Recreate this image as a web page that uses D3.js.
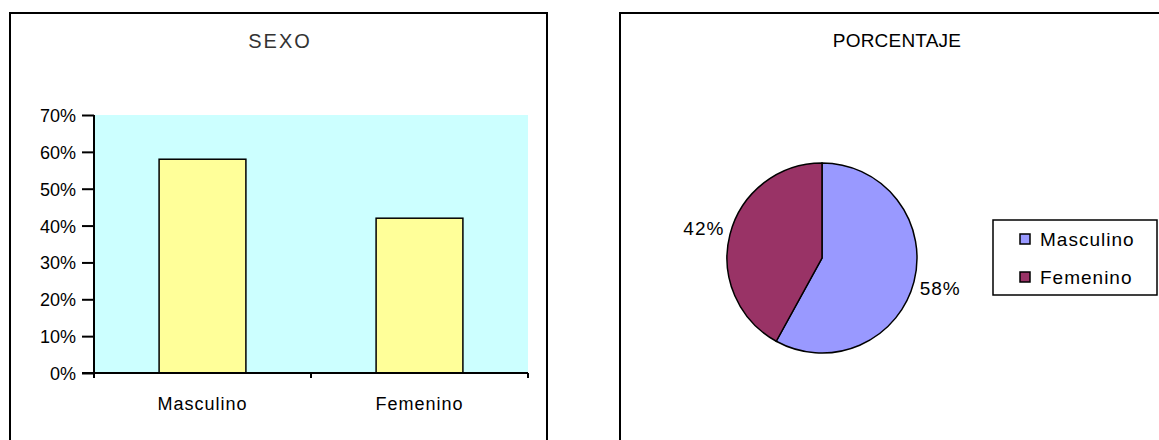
<!DOCTYPE html>
<html>
<head>
	<title>SEXO / PORCENTAJE</title>
	<script src="https://d3js.org/d3.v7.min.js"></script>
	<style>
		body { margin: 0; background: #fff; }
		text { font-family: "Liberation Sans", Arial, sans-serif; fill: #000; }
	</style>
</head>
<body>
	<div id="chart"></div>

	<script>
		// Data
		const categories = ["Masculino", "Femenino"];
		const values = [0.58, 0.42];
		const yTicks = [0, 0.1, 0.2, 0.3, 0.4, 0.5, 0.6, 0.7];
		const pieColors = ["#9999FF", "#993366"];

		const svg = d3.select("#chart")
			.append("svg")
			.attr("width", 1159)
			.attr("height", 440);

		// ---- left panel: bar chart ----
		svg.append("rect")
			.attr("x", 10).attr("y", 13)
			.attr("width", 537).attr("height", 440)
			.attr("fill", "#fff").attr("stroke", "#000").attr("stroke-width", 2);

		svg.append("text")
			.attr("x", 280).attr("y", 48)
			.attr("text-anchor", "middle")
			.style("font-size", "20px")
			.style("letter-spacing", "2px")
			.style("fill", "#333")
			.text("SEXO");

		const plot = { left: 94, top: 115, right: 528, bottom: 373 };

		const x = d3.scaleBand()
			.domain(categories)
			.range([plot.left, plot.right])
			.paddingInner(0.6)
			.paddingOuter(0.3);
		const y = d3.scaleLinear()
			.domain([0, 0.7])
			.range([plot.bottom, plot.top]);

		svg.append("rect")
			.attr("x", plot.left).attr("y", plot.top)
			.attr("width", plot.right - plot.left)
			.attr("height", plot.bottom - plot.top)
			.attr("fill", "#CCFFFF");

		svg.selectAll(".bar")
			.data(values)
			.enter()
			.append("rect")
			.attr("class", "bar")
			.attr("x", (d, i) => x(categories[i]))
			.attr("y", d => y(d))
			.attr("width", x.bandwidth())
			.attr("height", d => y(0) - y(d))
			.attr("fill", "#FFFF99")
			.attr("stroke", "#000")
			.attr("stroke-width", 1.5);

		// y axis
		const yAxis = svg.append("g")
			.attr("transform", `translate(${plot.left},0)`)
			.call(d3.axisLeft(y).tickValues(yTicks).tickFormat(d3.format(".0%")).tickSize(12).tickPadding(6));
		yAxis.select(".domain").attr("stroke-width", 2).attr("d", `M0,${plot.top}V${plot.bottom}`);
		yAxis.selectAll(".tick line").attr("stroke-width", 2);
		yAxis.selectAll(".tick text")
			.style("font-size", "18px")
			.style("font-family", "Liberation Sans, Arial, sans-serif")
			.attr("dy", "0.36em");

		// x axis
		const xEdge = d3.scaleLinear().domain([0, 2]).range([plot.left, plot.right]);
		const xAxis = svg.append("g")
			.attr("transform", `translate(0,${plot.bottom})`);
		xAxis.append("line")
			.attr("x1", plot.left - 12).attr("x2", plot.right)
			.attr("stroke", "#000").attr("stroke-width", 2);
		xAxis.selectAll(".xt")
			.data([0, 1, 2])
			.enter()
			.append("line")
			.attr("x1", d => xEdge(d)).attr("x2", d => xEdge(d))
			.attr("y1", 0).attr("y2", 5)
			.attr("stroke", "#000").attr("stroke-width", 2);
		xAxis.selectAll(".xl")
			.data(categories)
			.enter()
			.append("text")
			.attr("x", d => x(d) + x.bandwidth() / 2)
			.attr("y", 37)
			.attr("text-anchor", "middle")
			.style("font-size", "18px")
			.style("letter-spacing", "1px")
			.text(d => d);

		// ---- right panel: pie chart ----
		svg.append("rect")
			.attr("x", 620).attr("y", 13)
			.attr("width", 600).attr("height", 440)
			.attr("fill", "#fff").attr("stroke", "#000").attr("stroke-width", 2);

		svg.append("text")
			.attr("x", 897).attr("y", 47)
			.attr("text-anchor", "middle")
			.style("font-size", "19px")
			.style("letter-spacing", "0.2px")
			.text("PORCENTAJE");

		const cx = 822, cy = 258, r = 95;
		const pie = d3.pie().sort(null)(values);
		const arc = d3.arc().innerRadius(0).outerRadius(r);
		const pg = svg.append("g").attr("transform", `translate(${cx},${cy})`);

		pg.selectAll("path")
			.data(pie)
			.enter()
			.append("path")
			.attr("d", arc)
			.attr("fill", (d, i) => pieColors[i])
			.attr("stroke", "#000")
			.attr("stroke-width", 1.5);

		const labelArc = d3.arc().innerRadius(r + 27).outerRadius(r + 27);
		pg.selectAll(".pl")
			.data(pie)
			.enter()
			.append("text")
			.attr("transform", d => `translate(${labelArc.centroid(d)})`)
			.attr("text-anchor", "middle")
			.attr("dy", "0.36em")
			.style("font-size", "19px")
			.style("letter-spacing", "1px")
			.text(d => d3.format(".0%")(d.data));

		// legend
		const lg = svg.append("g").attr("transform", "translate(993,220)");
		lg.append("rect")
			.attr("width", 164).attr("height", 75)
			.attr("fill", "#fff").attr("stroke", "#000").attr("stroke-width", 1.5);
		const items = lg.selectAll(".li")
			.data(categories)
			.enter()
			.append("g")
			.attr("transform", (d, i) => `translate(27,${18 + i * 38})`);
		items.append("rect")
			.attr("x", 0).attr("y", -4)
			.attr("width", 10).attr("height", 10)
			.attr("fill", (d, i) => pieColors[i])
			.attr("stroke", "#000").attr("stroke-width", 1.5);
		items.append("text")
			.attr("x", 20).attr("y", 1)
			.attr("dy", "0.36em")
			.style("font-size", "19px")
			.style("letter-spacing", "1px")
			.text(d => d);
	</script>
</body>
</html>
